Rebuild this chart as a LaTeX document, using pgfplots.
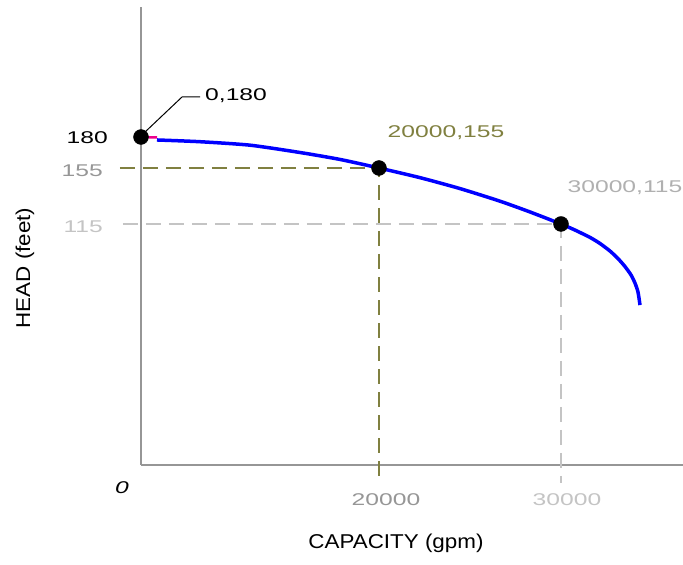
\documentclass[border=0pt]{standalone}
\usepackage{pgfplots}
\pgfplotsset{compat=1.18}
\usepackage{fontspec}
\setmainfont[FakeStretch=1.12]{Liberation Sans}
\newfontfamily\numfont[FakeStretch=1.45]{Liberation Sans}
\definecolor{olivedash}{RGB}{128,128,64}
\definecolor{lightgr}{RGB}{196,196,196}
\definecolor{midgr}{RGB}{150,150,150}
\definecolor{axgray}{RGB}{150,150,150}
\begin{document}
\begin{tikzpicture}
\path[use as bounding box] (-141bp,-100bp) rectangle (542bp,465bp);
\begin{axis}[
  at={(0,0)}, anchor=south west,
  x=1bp, y=1bp,
  x coord trafo/.code={\begingroup\pgfkeys{/pgf/fpu=true,/pgf/fpu/output format=fixed}\pgfmathparse{#1<=20000 ? #1*0.0119 : 238+(#1-20000)*0.0182}\pgfmathsmuggle\pgfmathresult\endgroup},
  y coord trafo/.code={\begingroup\pgfkeys{/pgf/fpu=true,/pgf/fpu/output format=fixed}\pgfmathparse{#1<=115 ? #1*2.0957 : (#1<=155 ? 241+(#1-115)*1.4 : 297+(#1-155)*1.24)}\pgfmathsmuggle\pgfmathresult\endgroup},
  xmin=0, xmax=36703, ymin=0, ymax=284.8,
  axis x line=bottom, axis y line=left,
  axis line style={-, draw=axgray, line width=2bp},
  every outer x axis line/.append style={-},
  every outer y axis line/.append style={-},
  xtick=\empty, ytick=\empty,
  clip=false,
]
% reference dashed lines
\addplot[olivedash, line width=1.5bp, dash pattern=on 15bp off 8bp] coordinates {(-1765,155) (20000,155) (20000,-8.6)};
\addplot[lightgr, line width=1.5bp, dash pattern=on 15bp off 8bp] coordinates {(-1513,115) (30000,115) (30000,-8.6)};
% pump curve
\addplot[magenta, line width=2.5bp] coordinates {(0,180) (1345,179.6)};
\addplot[blue, line width=3.5bp, smooth, tension=0.4] coordinates {
 (1345,177.6) (4958,176.2) (9160,173.4) (13361,167.5) (16723,161.9) (20000,155)
 (22253,148.1) (24451,140.3) (26648,131.3) (28297,123.6) (30000,115)
 (30769,112.1) (31593,108.6) (32143,105.7) (32692,102.1) (33132,98.5)
 (33516,94.7) (33846,90.7) (34066,86.8) (34231,82.5) (34341,76.3)};
% marked points
\addplot[only marks, mark=*, mark size=7.5bp, black] coordinates {(0,180) (20000,155) (30000,115)};
\end{axis}
% leader line
\draw[black, line width=1bp] (3bp,332bp) -- (41bp,368bp) -- (59bp,368bp);
% annotations
\node[anchor=west, inner sep=0pt] at (64bp,369bp) {\numfont\fontsize{17bp}{20bp}\selectfont 0,180};
\node[inner sep=0pt, text=olivedash] at (305bp,332bp) {\numfont\fontsize{17bp}{20bp}\selectfont 20000,155};
\node[inner sep=0pt, text=lightgr!90!black] at (484bp,277bp) {\numfont\fontsize{17bp}{20bp}\selectfont 30000,115};
% y labels
\node[anchor=east, inner sep=0pt] at (-33bp,327bp) {\numfont\fontsize{17bp}{20bp}\selectfont 180};
\node[anchor=east, inner sep=0pt, text=midgr] at (-38bp,294bp) {\numfont\fontsize{17bp}{20bp}\selectfont 155};
\node[anchor=east, inner sep=0pt, text=lightgr] at (-38bp,238bp) {\numfont\fontsize{17bp}{20bp}\selectfont 115};
% x labels
\node[inner sep=0pt] at (-19bp,-23bp) {\numfont\fontsize{17bp}{20bp}\selectfont\itshape 0};
\node[inner sep=0pt, text=midgr] at (245bp,-35bp) {\numfont\fontsize{17bp}{20bp}\selectfont 20000};
\node[inner sep=0pt, text=lightgr] at (426bp,-35bp) {\numfont\fontsize{17bp}{20bp}\selectfont 30000};
% axis titles
\node[inner sep=0pt] at (255bp,-78bp) {\fontsize{20bp}{24bp}\selectfont CAPACITY (gpm)};
\node[inner sep=0pt, rotate=90] at (-116bp,197bp) {\fontsize{20bp}{24bp}\selectfont HEAD (feet)};
\end{tikzpicture}
\end{document}
